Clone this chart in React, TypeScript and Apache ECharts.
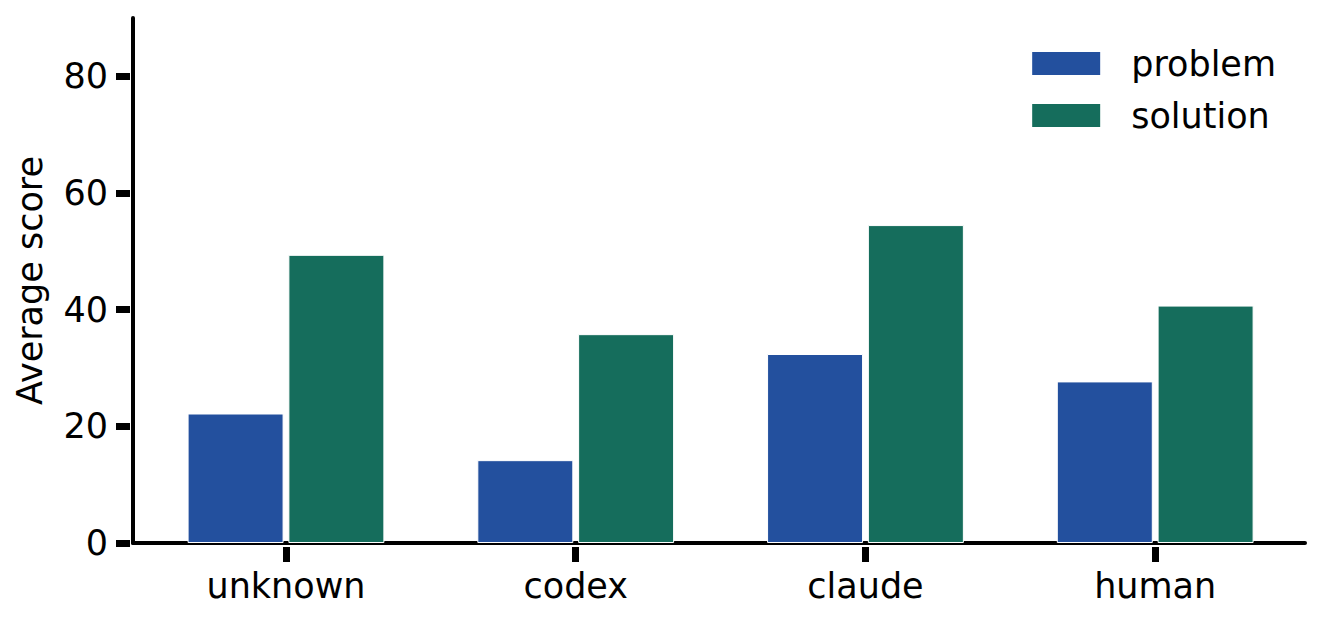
import { useEffect, useRef } from "react";
import * as echarts from "echarts";

const categories = ["unknown", "codex", "claude", "human"];
const problemScores = [22.2, 14.2, 32.4, 27.7];
const solutionScores = [49.4, 35.8, 54.5, 40.7];
const yTicks = [0, 20, 40, 60, 80];
const xTicks = [0, 1, 2, 3];

const FONT = "DejaVu Sans";
const FONT_SIZE = 35;
const X_MIN = -0.528;
const X_MAX = 3.517;
const Y_MAX = 90;

const App = () => {
  const chartRef = useRef<HTMLDivElement>(null);

  useEffect(() => {
    if (!chartRef.current) return;
    const chart = echarts.init(chartRef.current, null, { renderer: "svg" });

    const label = { fontFamily: FONT, fontSize: FONT_SIZE, color: "#000" };
    const tickStyle = { color: "#000", width: 7 };

    const option: echarts.EChartsOption = {
      animation: false,
      backgroundColor: "#ffffff",
      grid: { left: 133, right: 20, top: 18, bottom: 82 },
      legend: {
        right: 44,
        top: 41,
        orient: "vertical",
        icon: "rect",
        itemWidth: 70,
        itemHeight: 25,
        itemGap: 17,
        textStyle: { ...label, padding: [0, 0, 0, 25] },
        data: ["problem", "solution"],
      },
      xAxis: [
        {
          // axis line only
          type: "value",
          min: X_MIN,
          max: X_MAX,
          splitLine: { show: false },
          axisLine: { show: true, onZero: false, lineStyle: { color: "#000", width: 4 } },
          axisTick: { show: false },
          axisLabel: { show: false },
        },
        {
          // ticks and labels, set a little apart from the line
          type: "value",
          position: "bottom",
          offset: 4,
          min: X_MIN,
          max: X_MAX,
          splitLine: { show: false },
          axisLine: { show: false, onZero: false },
          axisTick: { show: true, customValues: xTicks, length: 15, lineStyle: tickStyle },
          axisLabel: {
            ...label,
            customValues: xTicks,
            formatter: (v: number) => categories[Math.round(v)] ?? "",
            margin: 21,
          },
        },
      ],
      yAxis: [
        {
          type: "value",
          min: 0,
          max: Y_MAX,
          splitLine: { show: false },
          axisLine: { show: true, onZero: false, lineStyle: { color: "#000", width: 4 } },
          axisTick: { show: false },
          axisLabel: { show: false },
        },
        {
          type: "value",
          position: "left",
          offset: 3,
          min: 0,
          max: Y_MAX,
          name: "Average score",
          nameLocation: "middle",
          nameGap: 83,
          nameTextStyle: label,
          splitLine: { show: false },
          axisLine: { show: false, onZero: false },
          axisTick: { show: true, customValues: yTicks, length: 14, lineStyle: tickStyle },
          axisLabel: { ...label, customValues: yTicks, margin: 22 },
        },
      ],
      series: [
        {
          name: "problem",
          type: "bar",
          barWidth: 96,
          barGap: "5%",
          data: problemScores.map((v, i) => [i, v]),
          itemStyle: { color: "#23509E", borderColor: "#ffffff", borderWidth: 1 },
        },
        {
          name: "solution",
          type: "bar",
          barWidth: 96,
          barGap: "5%",
          data: solutionScores.map((v, i) => [i, v]),
          itemStyle: { color: "#156D5C", borderColor: "#ffffff", borderWidth: 1 },
        },
      ],
    };

    chart.setOption(option);
    return () => {
      chart.dispose();
    };
  }, []);

  return (
    <div
      ref={chartRef}
      style={{ position: "absolute", left: 0, top: 0, width: 1325, height: 625 }}
    />
  );
};

export default App;
